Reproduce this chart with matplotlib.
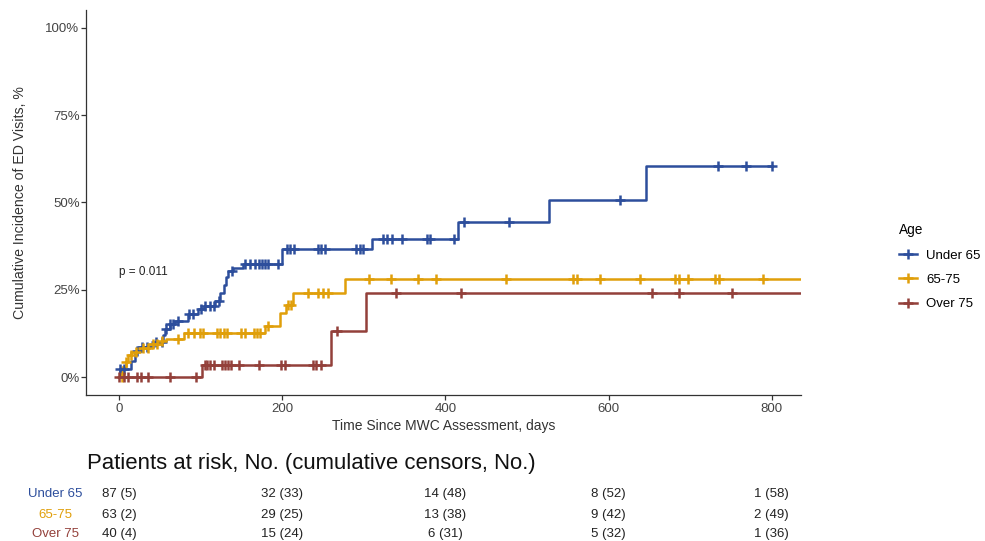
import numpy as np
import matplotlib
matplotlib.use("Agg")
import matplotlib.pyplot as plt
from matplotlib.lines import Line2D
import matplotlib.transforms as mtransforms

plt.rcParams['font.family'] = ['Liberation Sans', 'DejaVu Sans']

# --- data --------------------------------------------------------------
grupos = ["Under 65", "65-75", "Over 75"]
colores = ["#2D4E9C", "#E09F0A", "#93403A"]

# step times (days) and cumulative incidence (%)
t_u65 = [0, 1, 15, 20, 24, 42, 54, 56, 62, 69, 85, 97, 104, 118, 124, 128,
         131, 134, 140, 152, 200, 310, 416, 527, 646, 800]
y_u65 = [0, 2.3, 4.8, 7.7, 8.6, 10.1, 12.0, 13.9, 15.3, 16.2, 18.1, 19.6,
         20.5, 21.9, 24.0, 26.5, 28.6, 30.3, 31.3, 32.5, 36.7, 39.7, 44.4,
         50.6, 60.4, 60.4]
c_u65 = [1, 6, 22, 28, 34, 45, 52, 58, 62, 66, 72, 86, 91, 101, 105, 111,
         116, 122, 138, 154, 160, 167, 171, 175, 179, 183, 195, 206, 210, 214,
         244, 248, 252, 291, 295, 299, 323, 328, 334, 347, 377, 381, 410, 423,
         478, 614, 734, 769, 800]

t_6575 = [0, 4, 8, 11, 15, 24, 38, 52, 57, 80, 179, 197, 204, 213, 277, 845]
y_6575 = [0, 2.9, 4.4, 6.3, 7.2, 8.4, 9.5, 10.3, 11.0, 12.7, 14.6, 18.3,
          20.8, 24.1, 28.1, 28.1]
c_6575 = [3, 9, 14, 21, 29, 35, 41, 47, 53, 72, 84, 92, 99, 103, 120, 124,
          128, 132, 150, 154, 165, 169, 173, 183, 207, 211, 231, 244, 250, 256,
          306, 333, 367, 388, 474, 557, 561, 590, 639, 682, 686, 698, 731, 736,
          789]

t_o75 = [0, 102, 260, 303, 845]
y_o75 = [0, 3.7, 13.4, 24.1, 24.1]
c_o75 = [0, 6, 11, 22, 27, 35, 62, 94, 105, 108, 111, 116, 126, 130, 133,
         137, 147, 171, 199, 203, 238, 242, 248, 267, 340, 419, 653, 687, 751]

tiempos = [t_u65, t_6575, t_o75]
valores = [y_u65, y_6575, y_o75]
censuras = [c_u65, c_6575, c_o75]

# risk table
t_riesgo = [0, 200, 400, 600, 800]
riesgo_u65 = ["87 (5)", "32 (33)", "14 (48)", "8 (52)", "1 (58)"]
riesgo_6575 = ["63 (2)", "29 (25)", "13 (38)", "9 (42)", "2 (49)"]
riesgo_o75 = ["40 (4)", "15 (24)", "6 (31)", "5 (32)", "1 (36)"]
tabla = [riesgo_u65, riesgo_6575, riesgo_o75]

# --- figure -------------------------------------------------------------
fig = plt.figure(figsize=(9.85, 5.41), dpi=100)
ax = fig.add_axes([0.0878, 0.2699, 0.7254, 0.7116])

for t, y, c, col in zip(tiempos, valores, censuras, colores):
    ax.step(t, y, where='post', color=col, lw=1.8, zorder=3)
    idx = np.searchsorted(t, c, side='right') - 1
    yc = np.array(y)[idx]
    ax.plot(c, yc, ls='none', marker='+', color=col, ms=7, mew=1.8, zorder=4)

ax.set_xlim(-40, 836)
ax.set_ylim(-5, 105)
ax.set_xticks([0, 200, 400, 600, 800])
ax.set_yticks([0, 25, 50, 75, 100])
ax.set_yticklabels(["0%", "25%", "50%", "75%", "100%"])
for lado in ['top', 'right']:
    ax.spines[lado].set_visible(False)
for lado in ['left', 'bottom']:
    ax.spines[lado].set_color('#333333')
    ax.spines[lado].set_linewidth(0.9)
ax.tick_params(axis='both', colors='#333333', labelcolor='#444444',
               labelsize=9.5, length=3.5, width=0.9)
ax.tick_params(axis='y', pad=1.5)
ax.tick_params(axis='x', pad=2.5)
ax.set_xlabel("Time Since MWC Assessment, days", fontsize=10,
              color='#333333', labelpad=3)
ax.set_ylabel("Cumulative Incidence of ED Visits, %", fontsize=10.2,
              color='#333333', labelpad=13)

ax.text(0, 30, "p = 0.011", fontsize=8.5, ha='left', va='center',
        color='#222222')

# legend
handles = [Line2D([], [], color=col, lw=1.8, marker='+', ms=7, mew=1.8)
           for col in colores]
fig.legend(handles, grupos, title="Age", loc='upper left',
           bbox_to_anchor=(0.907, 0.597), frameon=False, fontsize=9.5,
           title_fontsize=9.8, handlelength=1.4, handletextpad=0.7,
           labelspacing=0.92, alignment='left', borderaxespad=0)

# risk table
fig.text(0.0883, 0.144, "Patients at risk, No. (cumulative censors, No.)",
         fontsize=15.9, ha='left', va='center', color='#111111')
tr = mtransforms.blended_transform_factory(ax.transData, fig.transFigure)
filas_y = [0.0869, 0.0481, 0.0129]
for fila, yy, nombre, col in zip(tabla, filas_y, grupos, colores):
    fig.text(0.056, yy, nombre, fontsize=9.5, ha='center', va='center',
             color=col)
    for tx, txt in zip(t_riesgo, fila):
        ax.text(tx, yy, txt, transform=tr, fontsize=9.5, ha='center',
                va='center', color='#222222', clip_on=False)

fig.savefig("out.png", dpi=100)
